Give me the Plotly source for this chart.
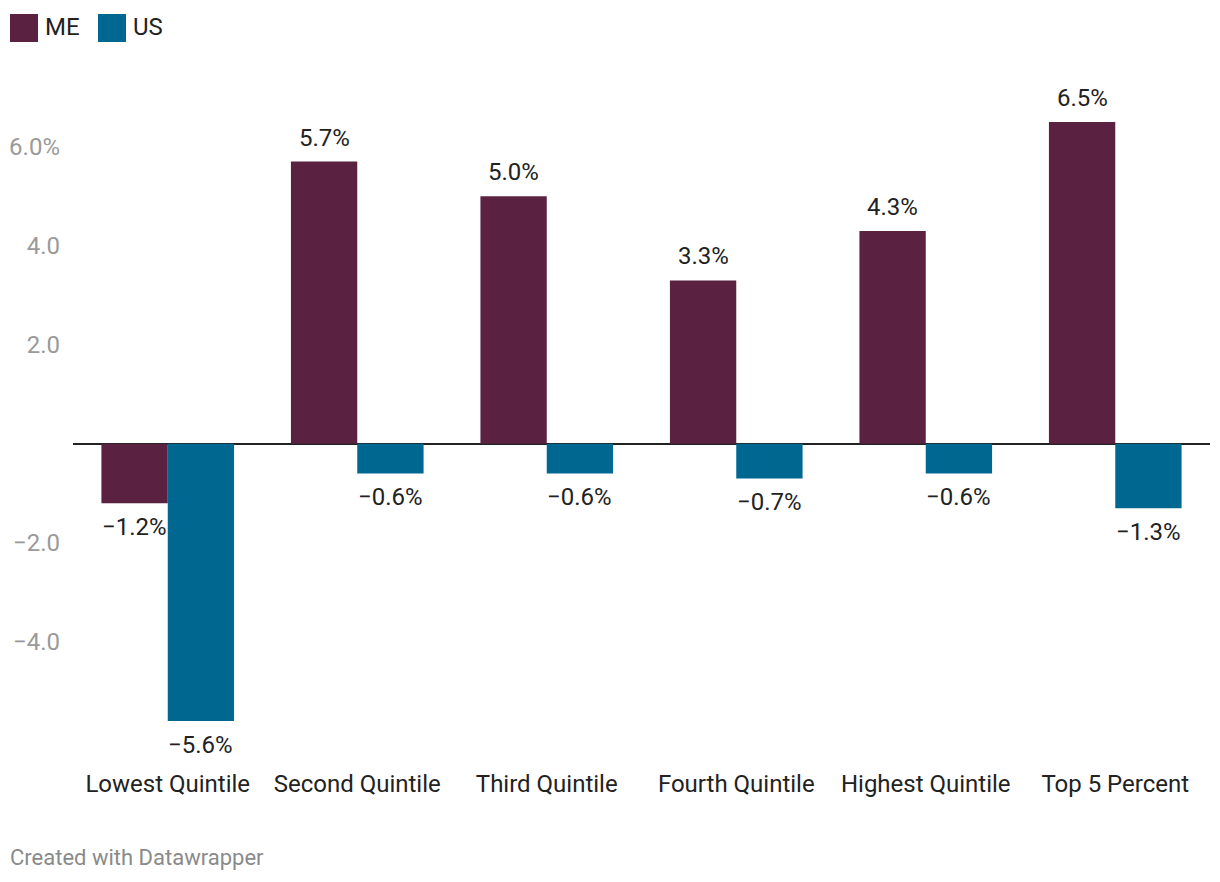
import plotly.graph_objects as go

categories = ["Lowest Quintile", "Second Quintile", "Third Quintile",
              "Fourth Quintile", "Highest Quintile", "Top 5 Percent"]
series_names = ["ME", "US"]
me_values = [-1.2, 5.7, 5.0, 3.3, 4.3, 6.5]
us_values = [-5.6, -0.6, -0.6, -0.7, -0.6, -1.3]
colors = ["#5a2141", "#006890"]
y_tickvals = [-4, -2, 2, 4, 6]
y_ticktext = ["−4.0", "−2.0", "2.0", "4.0", "6.0%"]

OFF = 8  # page body margin
W, H = 1220 - OFF, 882 - OFF
ML, MR, MT, MB = 73 - OFF, 10, 122 - OFF, 161
PW = W - ML - MR
PH = H - MT - MB

def fmt(v):
    s = f"{abs(v):.1f}%"
    return ("−" + s) if v < 0 else s

fig = go.Figure()
for name, vals, col in zip(series_names, [me_values, us_values], colors):
    fig.add_trace(go.Bar(x=categories, y=vals, name=name, marker_color=col,
                         marker_line_width=0, showlegend=False))

annotations = []
for vals, shift in [(me_values, -33), (us_values, 33)]:
    for c, v in zip(categories, vals):
        annotations.append(dict(x=c, y=v, xref="x", yref="y", text=fmt(v),
                                showarrow=False, xshift=shift,
                                yshift=24 if v >= 0 else -24,
                                font=dict(family="Roboto", size=24, color="#222222")))

def px_x(p):
    return (p - OFF - ML) / PW

def px_y(p):
    return (H - MB - (p - OFF)) / PH

# legend (manual, large squares)
shapes = []
leg_x = [10, 98]
for i, (name, col) in enumerate(zip(series_names, colors)):
    x0 = leg_x[i]
    shapes.append(dict(type="rect", xref="paper", yref="paper",
                       x0=px_x(x0), x1=px_x(x0 + 28), y0=px_y(42), y1=px_y(14),
                       fillcolor=col, line_width=0))
    annotations.append(dict(x=px_x(x0 + 33), y=px_y(27), xref="paper", yref="paper",
                            text=name, showarrow=False, xanchor="left", yanchor="middle",
                            font=dict(family="Roboto", size=24, color="#222222")))

annotations.append(dict(x=px_x(8), y=px_y(857), xref="paper", yref="paper",
                        text="Created with Datawrapper", showarrow=False,
                        xanchor="left", yanchor="middle",
                        font=dict(family="Roboto", size=22, color="#8a8a8a")))

fig.update_layout(
    width=W, height=H,
    margin=dict(l=ML, r=MR, t=MT, b=MB, pad=0, autoexpand=False),
    paper_bgcolor="white", plot_bgcolor="white",
    barmode="group", bargap=0.3, bargroupgap=0,
    annotations=annotations, shapes=shapes,
    xaxis=dict(showgrid=False, showline=False, ticks="", ticklen=0,
               ticklabelstandoff=46, automargin=False,
               tickfont=dict(family="Roboto", size=24, color="#222222"),
               fixedrange=True),
    yaxis=dict(range=[-5.6, 6.5], showgrid=False, showline=False,
               zeroline=True, zerolinecolor="#222222", zerolinewidth=2,
               tickvals=y_tickvals, ticktext=y_ticktext, ticks="", ticklen=0,
               ticklabelstandoff=12, automargin=False,
               tickfont=dict(family="Roboto", size=24, color="#9a9a9a"),
               fixedrange=True),
    showlegend=False,
)

fig.write_html("out.html")
